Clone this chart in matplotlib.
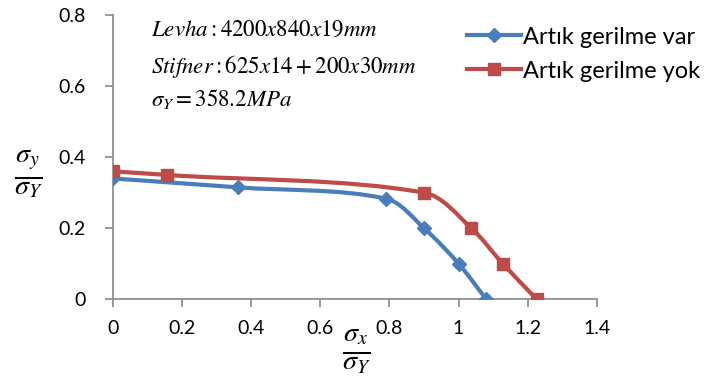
import matplotlib
matplotlib.use("Agg")
from matplotlib import pyplot as plt
from matplotlib.path import Path
from matplotlib.patches import PathPatch
import numpy as np

# data
x_var = [0.0, 0.36, 0.79, 0.90, 1.00, 1.08]
y_var = [0.34, 0.315, 0.283, 0.20, 0.10, 0.0]
x_yok = [0.0, 0.155, 0.90, 1.037, 1.128, 1.226]
y_yok = [0.36, 0.35, 0.30, 0.20, 0.10, 0.0]

labels = ["Artık gerilme var", "Artık gerilme yok"]
xticks = [0, 0.2, 0.4, 0.6, 0.8, 1, 1.2, 1.4]
yticks = [0, 0.2, 0.4, 0.6, 0.8]

blue = "#4A7EBB"
red = "#BE4B48"
axis_grey = "#888888"

plt.rcParams['mathtext.fontset'] = 'stix'


def smooth_path(xs, ys):
    """Bezier path through the points, tangents weighted by segment length"""
    pts = np.column_stack([xs, ys])
    n = len(pts)
    L = [np.hypot(*(pts[i + 1] - pts[i])) for i in range(n - 1)]
    verts = [pts[0]]
    codes = [Path.MOVETO]
    for i in range(n - 1):
        p1 = pts[i]
        p2 = pts[i + 1]
        if i > 0:
            c1 = p1 + (p2 - pts[i - 1]) * L[i] / (L[i - 1] + L[i]) / 3.0
        else:
            c1 = p1 + (p2 - p1) / 3.0
        if i + 2 < n:
            c2 = p2 - (pts[i + 2] - p1) * L[i] / (L[i] + L[i + 1]) / 3.0
        else:
            c2 = p2 - (p2 - p1) / 3.0
        verts += [c1, c2, p2]
        codes += [Path.CURVE4] * 3
    return Path(verts, codes)


fig = plt.figure(figsize=(7.12, 3.90), dpi=100)
ax = fig.add_axes([0.159, 0.233, 0.679, 0.728])

for xs, ys, col, mk, ms, lab in [(x_var, y_var, blue, "D", 7, labels[0]),
                                  (x_yok, y_yok, red, "s", 9, labels[1])]:
    ax.add_patch(PathPatch(smooth_path(xs, ys), facecolor="none", edgecolor=col,
                           lw=3, capstyle="round", joinstyle="round", zorder=3))
    ax.plot(xs, ys, ls="none", marker=mk, ms=ms, color=col, zorder=4)
    ax.plot([], [], color=col, lw=3, marker=mk, ms=ms, label=lab)

ax.set_xlim(0, 1.4)
ax.set_ylim(0, 0.8)
ax.set_xticks(xticks)
ax.set_yticks(yticks)
ax.set_xticklabels(["0", "0.2", "0.4", "0.6", "0.8", "1", "1.2", "1.4"])
ax.set_yticklabels(["0", "0.2", "0.4", "0.6", "0.8"])
for s in ["top", "right"]:
    ax.spines[s].set_visible(False)
for s in ["left", "bottom"]:
    ax.spines[s].set_color(axis_grey)
    ax.spines[s].set_linewidth(1.2)
ax.tick_params(axis="both", colors=axis_grey, length=6, width=1.2,
               labelcolor="black", labelsize=14)
ax.tick_params(axis="y", pad=14)
ax.tick_params(axis="x", pad=9)
for t in ax.get_xticklabels() + ax.get_yticklabels():
    t.set_family("Lato")

fig.text(0.039, 0.551, r'$\frac{\sigma_y}{\sigma_Y}$', fontsize=29,
         ha="center", va="center")
fig.text(0.501, 0.097, r'$\frac{\sigma_x}{\sigma_Y}$', fontsize=29,
         ha="center", va="center")

fig.text(0.212, 0.925, r'$Levha:4200x840x19mm$', fontsize=16.5, va="center")
fig.text(0.212, 0.83, r'$Stifner:625x14+200x30mm$', fontsize=16.5, va="center")
fig.text(0.212, 0.745, r'$\sigma_Y=358.2MPa$', fontsize=16.5, va="center")

leg = ax.legend(loc="upper left", bbox_to_anchor=(0.731, 0.96), frameon=False,
                prop={"family": "Lato", "size": 17}, handlelength=2.3,
                handletextpad=0.1, labelspacing=0.55, borderaxespad=0,
                borderpad=0)

fig.savefig("out.png", dpi=100)
